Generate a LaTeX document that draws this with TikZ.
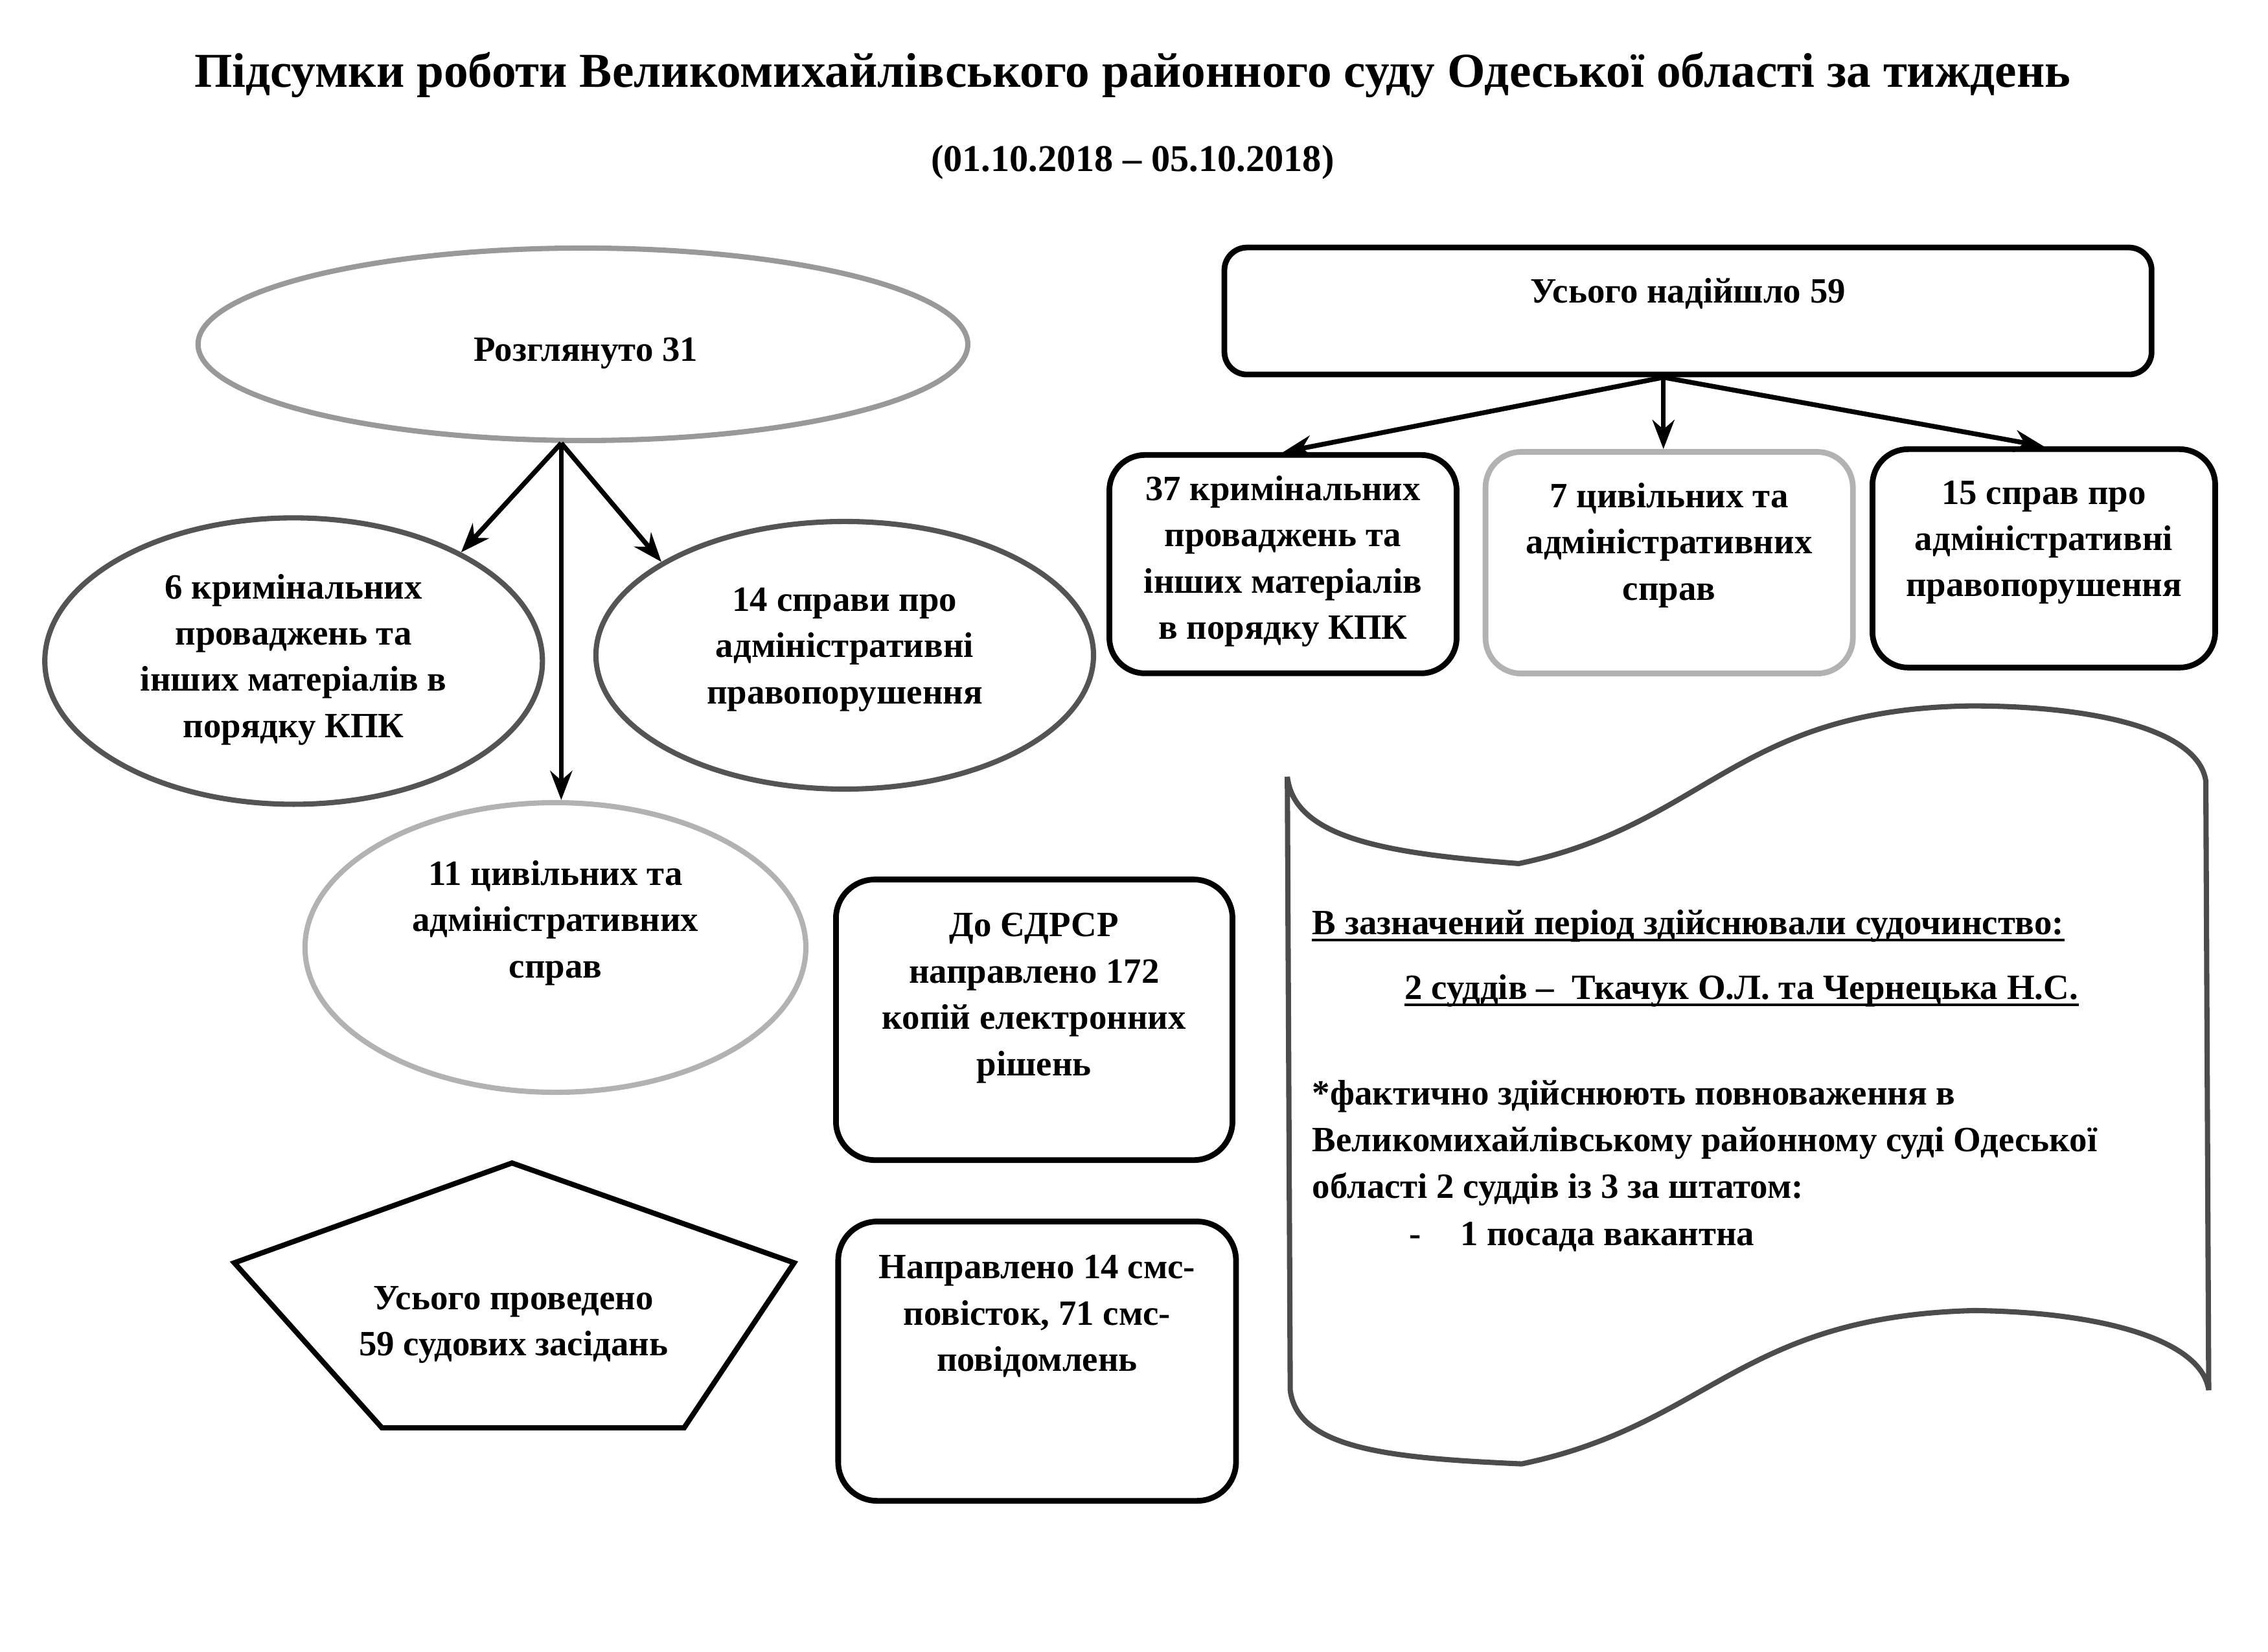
\documentclass[tikz,border=0pt]{standalone}
\usepackage{fontspec}
\setmainfont{Liberation Serif}
\usetikzlibrary{shapes.geometric,arrows.meta,calc}
\definecolor{ringA}{gray}{0.6}
\definecolor{ringB}{gray}{0.33}
\definecolor{ringC}{gray}{0.7}
\definecolor{waveC}{gray}{0.3}
\tikzset{
  ell/.style={ellipse, draw, line width=2.3pt, inner sep=0pt},
  rbox/.style={draw, line width=2.5pt, inner sep=0pt, rounded corners=0.55cm},
  lbl/.style={align=center, inner sep=0pt, font=\bfseries\fontsize{15.6}{20.3}\selectfont},
  lft/.style={anchor=west, inner sep=0pt, font=\bfseries\fontsize{15.6}{20.3}\selectfont},
  arr/.style={-{Stealth[length=0.45cm,width=0.34cm]}, line width=2.1pt},
}
\begin{document}
\begin{tikzpicture}[x=0.022328cm, y=-0.022328cm]
\useasboundingbox (0,0) rectangle (1568,1142);

% title
\node[inner sep=0pt, font=\bfseries\fontsize{21.4}{25}\selectfont] (title) at (783,52)
  {Підсумки роботи Великомихайлівського районного суду Одеської області за тиждень};
\node[inner sep=0pt, font=\bfseries\fontsize{16.6}{20}\selectfont] (sub) at (783,112)
  {(01.10.2018 – 05.10.2018)};

% left group
\node[ell, draw=ringA, minimum width=11.88cm, minimum height=2.97cm] (e0) at (403,238) {};
\node[lbl] (t0) at (405,244) {Розглянуто 31};
\node[ell, draw=ringB, minimum width=7.68cm, minimum height=4.42cm] (e1) at (203,457) {};
\node[lbl] (t1) at (203,456) {6 кримінальних\\проваджень та\\інших матеріалів в\\порядку КПК};
\node[ell, draw=ringB, minimum width=7.68cm, minimum height=4.13cm] (e2) at (584,453) {};
\node[lbl] (t2) at (584,449) {14 справи про\\адміністративні\\правопорушення};
\node[ell, draw=ringC, minimum width=7.73cm, minimum height=4.47cm] (e3) at (384,655) {};
\node[lbl] (t3) at (384,638) {11 цивільних та\\адміністративних\\справ};

\coordinate (o1) at ($(e0.south)+(-15,0)$);
\draw[arr] (o1) -- (e1.33);
\draw[arr] (o1) -- (o1 |- e3.north);
\draw[arr] (o1) -- (e2.153);

% boxes middle
\node[rbox, minimum width=6.12cm, minimum height=4.33cm, rounded corners=0.6cm] (r1) at (715,705) {};
\node[lbl] (tr1) at (715,690) {До ЄДРСР\\направлено 172\\копій електронних\\рішень};
\node[rbox, minimum width=6.14cm, minimum height=4.31cm, rounded corners=0.6cm] (r2) at (717,941) {};
\node[lbl] (tr2) at (717,910) {Направлено 14 смс-\\повісток, 71 смс-\\повідомлень};

% pentagon
\draw[line width=2.3pt] (354,804) coordinate (p1) -- (549,873) coordinate (p2) -- (473,987) coordinate (p3)
  -- (264,987) coordinate (p4) -- (162,873) coordinate (p5) -- cycle;
\node[lbl] (tp) at (355,916) {Усього проведено\\59 судових засідань};

% right group
\node[rbox, minimum width=14.31cm, minimum height=1.96cm, rounded corners=0.35cm] (r3) at (1167,215) {};
\node[lbl] (tr3) at (1167,203) {Усього надійшло 59};
\node[rbox, minimum width=5.36cm, minimum height=3.37cm] (r4) at (887,390) {};
\node[lbl] (tr4) at (887,388) {37 кримінальних\\проваджень та\\інших матеріалів\\в порядку КПК};
\node[rbox, draw=ringC, minimum width=5.67cm, minimum height=3.42cm] (r5) at (1154,389) {};
\node[lbl] (tr5) at (1154,377) {7 цивільних та\\адміністративних\\справ};
\node[rbox, minimum width=5.29cm, minimum height=3.37cm] (r6) at (1413,386) {};
\node[lbl] (tr6) at (1413,375) {15 справ про\\адміністративні\\правопорушення};

\coordinate (o2) at ($(r3.south)+(-17,0)$);
\draw[arr] (o2) -- (r4.north);
\draw[arr] (o2) -- (o2 |- r5.north);
\draw[arr] (o2) -- (r6.north);

% wave shape
\draw[draw=waveC, line width=2.3pt]
  (890,537) .. controls (895,580) and (960,590) .. (1050,597)
  .. controls (1180,570) and (1200,490) .. (1363,488)
  .. controls (1450,488) and (1520,505) .. (1525,540)
  -- (1527,961)
  .. controls (1522,926) and (1452,907) .. (1365,906)
  .. controls (1202,910) and (1182,985) .. (1052,1012)
  .. controls (962,1008) and (897,1002) .. (892,961)
  -- cycle;

\node[lft] (w1) at (907,640) {В зазначений період здійснювали судочинство:};
\draw[line width=1.1pt] ([yshift=-2.5pt]w1.base west) -- ([yshift=-2.5pt]w1.base east);
\node[lft] (w2) at (971,685) {2 суддів –\ \ Ткачук О.Л. та Чернецька Н.С.};
\draw[line width=1.1pt] ([yshift=-2.5pt]w2.base west) -- ([yshift=-2.5pt]w2.base east);
\node[lft] (w3) at (907,758) {*фактично здійснюють повноваження в};
\node[lft] (w4) at (907,790) {Великомихайлівському районному суді Одеської};
\node[lft] (w5) at (907,822) {області 2 суддів із 3 за штатом:};
\node[lft] (w6) at (974,855) {-\hspace{1.1em}1 посада вакантна};
\end{tikzpicture}
\end{document}
